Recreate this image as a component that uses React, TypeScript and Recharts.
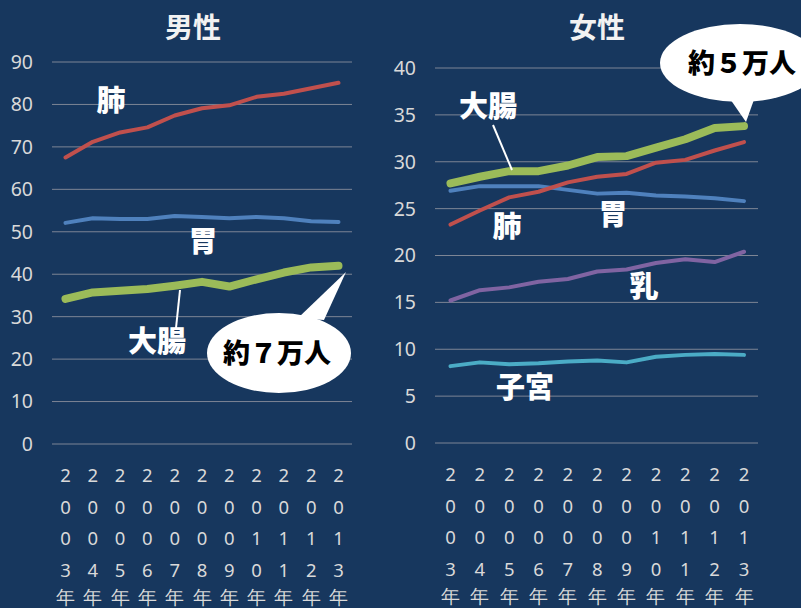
import { LineChart, Line, XAxis, YAxis, CartesianGrid } from 'recharts'

const years = ['2003年', '2004年', '2005年', '2006年', '2007年', '2008年', '2009年', '2010年', '2011年', '2012年', '2013年']

// 男性
const maleLung = [67.5, 71.2, 73.4, 74.6, 77.4, 79.1, 79.8, 81.8, 82.5, 83.8, 85.1]
const maleStomach = [52.1, 53.2, 53.0, 53.0, 53.7, 53.5, 53.2, 53.5, 53.2, 52.5, 52.3]
const maleColon = [34.2, 35.7, 36.1, 36.5, 37.3, 38.2, 37.1, 38.8, 40.4, 41.6, 42.0]
const maleTicks = [0, 10, 20, 30, 40, 50, 60, 70, 80, 90]

// 女性
const femaleColon = [27.7, 28.4, 29.0, 29.0, 29.6, 30.5, 30.6, 31.5, 32.4, 33.6, 33.8]
const femaleLung = [23.3, 24.8, 26.2, 26.8, 27.8, 28.4, 28.7, 29.9, 30.2, 31.2, 32.1]
const femaleStomach = [26.9, 27.4, 27.4, 27.4, 27.0, 26.6, 26.7, 26.4, 26.3, 26.1, 25.8]
const femaleBreast = [15.2, 16.3, 16.6, 17.2, 17.5, 18.3, 18.5, 19.2, 19.6, 19.3, 20.4]
const femaleUterus = [8.2, 8.6, 8.4, 8.5, 8.7, 8.8, 8.6, 9.2, 9.4, 9.5, 9.4]
const femaleTicks = [0, 5, 10, 15, 20, 25, 30, 35, 40]

const maleData = years.map((year, i) => ({
  year,
  lung: maleLung[i],
  stomach: maleStomach[i],
  colon: maleColon[i],
}))

const femaleData = years.map((year, i) => ({
  year,
  colon: femaleColon[i],
  lung: femaleLung[i],
  stomach: femaleStomach[i],
  breast: femaleBreast[i],
  uterus: femaleUterus[i],
}))

const BG = '#17375e'
const GRID = '#7d8595'
const TEXT = '#d9d9d9'
const NUM_FONT = '"Noto Sans", "Open Sans", sans-serif'
const JP_FONT = '"Noto Sans CJK JP", sans-serif'

const COLORS = {
  lung: '#c0504d',
  stomach: '#4f81bd',
  colon: '#9bbb59',
  breast: '#8064a2',
  uterus: '#4bacc6',
}

// year label written one character per row
const YearTick = ({ x, y, payload }: any) => {
  const chars = String(payload.value).split('')
  return (
    <text x={x} y={y} textAnchor="middle" fill={TEXT} fontSize={18.5} fontFamily={NUM_FONT}>
      {chars.map((c, i) => (
        <tspan key={i} x={x} dy={i === 0 ? 30 : c === '年' ? 27 : 31.7}>
          {c}
        </tspan>
      ))}
    </text>
  )
}

const yTick = { fill: TEXT, fontSize: 19.5, fontFamily: NUM_FONT }

const lineProps = {
  type: 'linear' as const,
  dot: false,
  activeDot: false,
  isAnimationActive: false,
  strokeLinecap: 'round' as const,
  strokeLinejoin: 'round' as const,
}

const labelStyle = {
  fill: '#ffffff',
  fontSize: 29,
  fontWeight: 900,
  fontFamily: JP_FONT,
}

export default function App() {
  return (
    <div
      style={{
        position: 'absolute',
        left: 0,
        top: 0,
        width: 801,
        height: 608,
        background: BG,
        overflow: 'hidden',
      }}
    >
      {/* 男性 */}
      <div style={{ position: 'absolute', left: 0, top: 0 }}>
        <LineChart width={380} height={608} data={maleData} margin={{ top: 62, right: 28, bottom: 0, left: 0 }}>
          <CartesianGrid vertical={false} stroke={GRID} />
          <XAxis
            dataKey="year"
            interval={0}
            height={164}
            axisLine={false}
            tickLine={false}
            padding={{ left: 13.5, right: 13.5 }}
            tick={<YearTick />}
          />
          <YAxis
            width={52}
            domain={[0, 90]}
            ticks={maleTicks}
            axisLine={false}
            tickLine={false}
            tickSize={6}
            tickMargin={13}
            tick={yTick}
          />
          <Line {...lineProps} dataKey="lung" stroke={COLORS.lung} strokeWidth={4} />
          <Line {...lineProps} dataKey="stomach" stroke={COLORS.stomach} strokeWidth={4} />
          <Line {...lineProps} dataKey="colon" stroke={COLORS.colon} strokeWidth={8} />
        </LineChart>
      </div>

      {/* 女性 */}
      <div style={{ position: 'absolute', left: 380, top: 0 }}>
        <LineChart width={421} height={608} data={femaleData} margin={{ top: 68, right: 43, bottom: 0, left: 0 }}>
          <CartesianGrid vertical={false} stroke={GRID} />
          <XAxis
            dataKey="year"
            interval={0}
            height={165}
            axisLine={false}
            tickLine={false}
            padding={{ left: 15.5, right: 14 }}
            tick={<YearTick />}
          />
          <YAxis
            width={55}
            domain={[0, 40]}
            ticks={femaleTicks}
            axisLine={false}
            tickLine={false}
            tickSize={6}
            tickMargin={13}
            tick={yTick}
          />
          <Line {...lineProps} dataKey="uterus" stroke={COLORS.uterus} strokeWidth={4} />
          <Line {...lineProps} dataKey="breast" stroke={COLORS.breast} strokeWidth={4} />
          <Line {...lineProps} dataKey="stomach" stroke={COLORS.stomach} strokeWidth={4} />
          <Line {...lineProps} dataKey="lung" stroke={COLORS.lung} strokeWidth={4} />
          <Line {...lineProps} dataKey="colon" stroke={COLORS.colon} strokeWidth={8} />
        </LineChart>
      </div>

      {/* titles, labels and callouts */}
      <svg
        width={801}
        height={608}
        style={{ position: 'absolute', left: 0, top: 0, pointerEvents: 'none' }}
      >
        <text x={193} y={38} textAnchor="middle" fill="#f2f2f2" fontSize={28} fontWeight={700} fontFamily={JP_FONT}>
          男性
        </text>
        <text x={597} y={38} textAnchor="middle" fill="#f2f2f2" fontSize={28} fontWeight={700} fontFamily={JP_FONT}>
          女性
        </text>

        {/* male labels */}
        <text x={111} y={111} textAnchor="middle" {...labelStyle}>肺</text>
        <text x={203} y={252} textAnchor="middle" {...labelStyle}>胃</text>
        <line x1={180} y1={290} x2={176} y2={328} stroke="#ffffff" strokeWidth={2} />
        <text x={157} y={352} textAnchor="middle" {...labelStyle}>大腸</text>

        {/* male callout */}
        <polygon points="298,318 324,320 346,272" fill="#ffffff" />
        <ellipse cx={279} cy={353} rx={72} ry={40} fill="#ffffff" />
        <text x={277} y={363} textAnchor="middle" fill="#000000" fontSize={27} fontWeight={900} fontFamily={JP_FONT}>
          約７万人
        </text>

        {/* female labels */}
        <line x1={493} y1={125} x2={512} y2={170} stroke="#ffffff" strokeWidth={2} />
        <text x={488} y={117} textAnchor="middle" {...labelStyle}>大腸</text>
        <text x={507} y={237} textAnchor="middle" {...labelStyle}>肺</text>
        <text x={613} y={225} textAnchor="middle" {...labelStyle}>胃</text>
        <text x={644} y={297} textAnchor="middle" {...labelStyle}>乳</text>
        <text x={525} y={398} textAnchor="middle" {...labelStyle}>子宮</text>

        {/* female callout */}
        <polygon points="728,96 756,94 746,122" fill="#ffffff" />
        <ellipse cx={740} cy={63} rx={80} ry={39} fill="#ffffff" />
        <text x={742} y={73} textAnchor="middle" fill="#000000" fontSize={27} fontWeight={900} fontFamily={JP_FONT}>
          約５万人
        </text>
      </svg>
    </div>
  )
}
